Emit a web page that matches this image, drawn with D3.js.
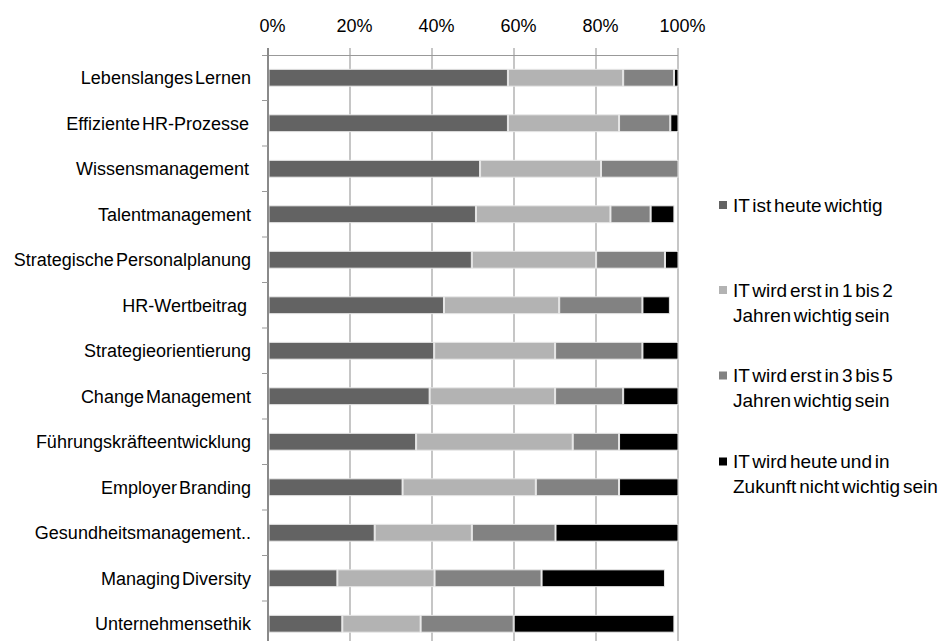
<!DOCTYPE html>
<html>
<head>
<meta charset="utf-8">
<script src="https://cdn.jsdelivr.net/npm/d3@7"></script>
<style>
  body { margin: 0; background: #fff; }
  text { font-family: "Liberation Sans", Arial, sans-serif; fill: #000; }
</style>
</head>
<body>
<svg width="942" height="641"></svg>
<script>
// categories (top to bottom) and share per answer, in percent
const categories = [
  'Lebenslanges Lernen',
  'Effiziente HR-Prozesse ',
  'Wissensmanagement ',
  'Talentmanagement',
  'Strategische Personalplanung',
  'HR-Wertbeitrag  ',
  'Strategieorientierung',
  'Change Management',
  'Führungskräfteentwicklung',
  'Employer Branding',
  'Gesundheitsmanagement..',
  'Managing Diversity',
  'Unternehmensethik'
];
const heuteWichtig   = [58.4, 58.4, 51.6, 50.6, 49.6, 42.8, 40.4, 39.3, 36.0, 32.7, 25.9, 16.8, 18.0];
const in1bis2Jahren  = [28.1, 27.1, 29.5, 32.8, 30.3, 28.1, 29.5, 30.6, 38.2, 32.5, 23.7, 23.7, 19.1];
const in3bis5Jahren  = [12.4, 12.5, 18.9,  9.8, 16.8, 20.3, 21.3, 16.6, 11.3, 20.3, 20.4, 26.1, 22.7];
const nichtWichtig   = [ 1.1,  2.0,  0.0,  5.8,  3.3,  6.7,  8.8, 13.5, 14.5, 14.5, 30.0, 30.1, 39.2];
const seriesNames = [
  ['IT ist heute wichtig'],
  ['IT wird erst in 1 bis 2', 'Jahren wichtig sein'],
  ['IT wird erst in 3 bis 5', 'Jahren wichtig sein'],
  ['IT wird heute und in', 'Zukunft nicht wichtig sein']
];
const tickValues = [0, 20, 40, 60, 80, 100];

const keys = ['a', 'b', 'c', 'd'];
const colors = ['#636363', '#b3b3b3', '#828282', '#000000'];
const rows = categories.map((c, i) => ({
  cat: c, a: heuteWichtig[i], b: in1bis2Jahren[i], c: in3bis5Jahren[i], d: nichtWichtig[i]
}));

const svg = d3.select('svg');
const plotLeft = 268, plotRight = 678, plotTop = 55, plotBottom = 646.5;

const x = d3.scaleLinear().domain([0, 100]).range([plotLeft, plotRight]);
const y = d3.scaleBand().domain(categories).range([plotTop, plotBottom])
  .paddingInner(0.63).paddingOuter(0.315);

// gridlines
svg.append('g')
  .selectAll('line')
  .data(tickValues.slice(1))
  .join('line')
  .attr('x1', d => x(d)).attr('x2', d => x(d))
  .attr('y1', plotTop - 7).attr('y2', plotBottom)
  .attr('stroke', '#a8a8a8')
  .attr('stroke-width', 1.3);

// top axis
const xAxis = svg.append('g')
  .attr('transform', `translate(0,${plotTop})`)
  .call(d3.axisTop(x).tickValues(tickValues).tickFormat(d => d + '%').tickSize(0).tickPadding(23));
xAxis.select('.domain').attr('stroke', '#999').attr('d', `M${plotLeft - 6},0.5H${plotRight}`);
xAxis.selectAll('text').attr('font-size', 18).attr('dx', 4).attr('font-family', '"Liberation Sans", Arial, sans-serif');

// bars
const stacked = d3.stack().keys(keys)(rows);
svg.append('g')
  .selectAll('g')
  .data(stacked)
  .join('g')
  .attr('fill', (d, i) => colors[i])
  .selectAll('rect')
  .data(d => d)
  .join('rect')
  .attr('x', d => x(d[0]) + 1)
  .attr('y', d => y(d.data.cat))
  .attr('width', d => Math.max(0, x(d[1]) - x(d[0]) - 1))
  .attr('height', y.bandwidth())
  .attr('stroke', '#e6e6e6')
  .attr('stroke-width', 1)
  .style('display', d => d[1] - d[0] > 0 ? null : 'none');

// left axis line and boundary ticks
svg.append('line')
  .attr('x1', plotLeft).attr('x2', plotLeft)
  .attr('y1', plotTop - 7).attr('y2', plotBottom)
  .attr('stroke', '#8a8a8a').attr('stroke-width', 2);
svg.append('g')
  .selectAll('line')
  .data(categories)
  .join('line')
  .attr('x1', plotLeft - 6).attr('x2', plotLeft)
  .attr('y1', d => y(d) + y.bandwidth() / 2 + y.step() / 2)
  .attr('y2', d => y(d) + y.bandwidth() / 2 + y.step() / 2)
  .attr('stroke', '#999');

// category labels
svg.append('g')
  .selectAll('text')
  .data(categories)
  .join('text')
  .attr('x', 251)
  .attr('y', d => y(d) + y.bandwidth() / 2)
  .attr('dy', '0.35em')
  .attr('text-anchor', 'end')
  .attr('font-size', 18)
  .style('word-spacing', '-3px')
  .style('white-space', 'pre')
  .text(d => d);

// legend
const legendY = [205, 290, 375.5, 461.5];
const legend = svg.append('g')
  .selectAll('g')
  .data(seriesNames)
  .join('g')
  .attr('transform', (d, i) => `translate(719,${legendY[i]})`);
legend.append('rect')
  .attr('x', 0).attr('y', -4)
  .attr('width', 8).attr('height', 8)
  .attr('fill', (d, i) => colors[i]);
legend.append('text')
  .attr('x', 14)
  .attr('font-size', 19)
  .style('word-spacing', '-2.5px')
  .selectAll('tspan')
  .data(d => d)
  .join('tspan')
  .attr('x', 14)
  .attr('y', (d, i) => i * 25)
  .attr('dy', '0.35em')
  .text(d => d);
</script>
</body>
</html>
